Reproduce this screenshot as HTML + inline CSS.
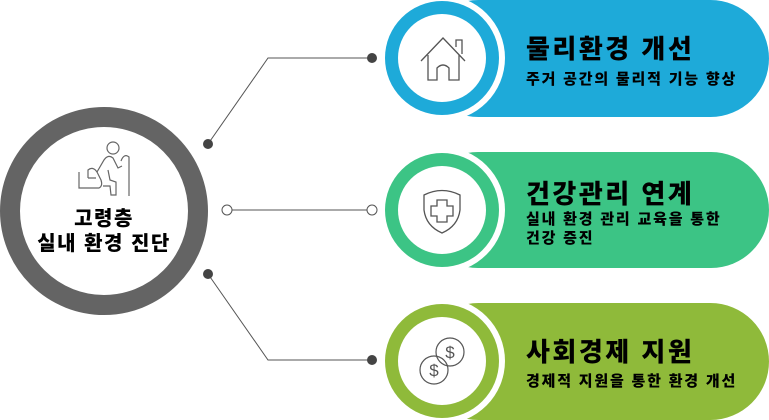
<!DOCTYPE html>
<html><head><meta charset="utf-8"><style>
html,body{margin:0;padding:0;background:#fff;}
body{width:769px;height:420px;position:relative;overflow:hidden;font-family:"Liberation Sans","Noto Sans CJK KR",sans-serif;}
.t{position:absolute;font-weight:900;color:#000;white-space:nowrap;}
.h{font-size:26px;letter-spacing:2.5px;}
.s{font-size:15px;letter-spacing:1.8px;}
</style></head><body>
<svg width="769" height="420" style="position:absolute;left:0;top:0">
<rect x="420" y="0" width="349" height="117" rx="58.5" fill="#1eaad9"/>
<rect x="420" y="152" width="349" height="116" rx="58" fill="#3cc485"/>
<rect x="420" y="303" width="349" height="117" rx="58.5" fill="#8fba3a"/>
<g>
<circle cx="442" cy="58" r="63" fill="#fff"/><circle cx="442" cy="58" r="57" fill="#1eaad9"/><circle cx="442" cy="58" r="44" fill="#fff"/>
<circle cx="442" cy="210" r="63" fill="#fff"/><circle cx="442" cy="210" r="57" fill="#3cc485"/><circle cx="442" cy="210" r="44" fill="#fff"/>
<circle cx="442" cy="361" r="63" fill="#fff"/><circle cx="442" cy="361" r="57" fill="#8fba3a"/><circle cx="442" cy="361" r="44" fill="#fff"/>
</g>
<g fill="none" stroke="#555" stroke-width="1.3">
<path d="M421 61 L443 38 L465 61 M428 55 V80 H437 V68 Q443 62 449 68 V80 H459 V55"/>
<path d="M456 47 V40 H462 V54"/>
</g>
<g fill="none" stroke="#555" stroke-width="1.3">
<path d="M424 195 Q442 186 460 195 V210 Q458 226 442 233 Q426 226 424 210 Z"/>
<path d="M437 200 H447 V206 H453 V216 H447 V222 H437 V216 H431 V206 H437 Z"/>
</g>
<g fill="none" stroke="#555" stroke-width="1.2">
<circle cx="450" cy="352" r="14"/><circle cx="434" cy="370" r="14"/>
</g>
<text x="450" y="358" font-size="17" text-anchor="middle" fill="#555" font-family="Liberation Sans">$</text>
<text x="434" y="376" font-size="17" text-anchor="middle" fill="#555" font-family="Liberation Sans">$</text>
<circle cx="104" cy="211" r="94" fill="#fff" stroke="#646464" stroke-width="20"/>
<g fill="none" stroke="#666" stroke-width="1.2">
<circle cx="113" cy="148" r="6"/>
<path d="M79 172 V188 H99 Q103 186 101 180 L97 172 Q93 166 88 170 V178 M88 178 H96"/>
<path d="M97 172 L104 160 Q108 154 113 158 L118 168 L122 166 M108 170 L110 180 L116 182 L116 195 H111 L110 186 L103 186"/>
<path d="M121 161 Q124 153 129 157 V196"/>
</g>
<g stroke="#555" stroke-width="1" fill="none">
<polyline points="208,144 268,58 372,58"/>
<line x1="227" y1="210" x2="372" y2="210"/>
<polyline points="208,274 268,360 372,360"/>
</g>
<circle cx="208" cy="144" r="5" fill="#444"/>
<circle cx="372" cy="58" r="5" fill="#444"/>
<circle cx="208" cy="274" r="5" fill="#444"/>
<circle cx="372" cy="360" r="5" fill="#444"/>
<circle cx="227" cy="210" r="5" fill="#fff" stroke="#555"/>
<circle cx="372" cy="210" r="5" fill="#fff" stroke="#555"/>
</svg>
<div class="t" style="left:104px;top:207px;transform:translateX(-50%);font-size:20px;letter-spacing:1.5px;line-height:25px;text-align:center">고령층<br>실내 환경 진단</div>
<div class="t h" style="left:526px;top:29px">물리환경 개선</div>
<div class="t s" style="left:526px;top:68px">주거 공간의 물리적 기능 향상</div>
<div class="t h" style="left:526px;top:174px">건강관리 연계</div>
<div class="t s" style="left:526px;top:210px;line-height:19px">실내 환경 관리 교육을 통한<br>건강 증진</div>
<div class="t h" style="left:526px;top:332px">사회경제 지원</div>
<div class="t s" style="left:526px;top:370px">경제적 지원을 통한 환경 개선</div>
</body></html>
